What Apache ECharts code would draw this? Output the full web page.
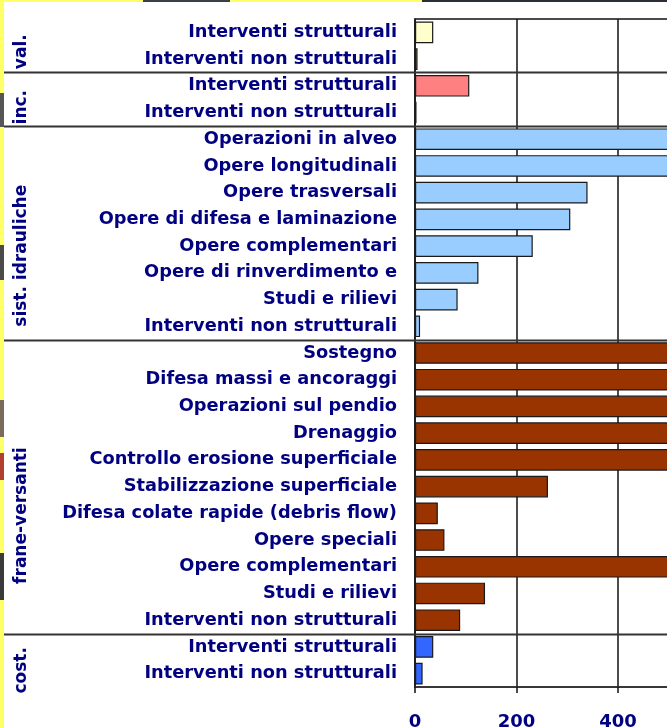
<!DOCTYPE html>
<html><head><meta charset="utf-8">
<script src="https://cdn.jsdelivr.net/npm/echarts@6/dist/echarts.min.js"></script>
<style>html,body{margin:0;padding:0;background:#fff}#c{width:667px;height:728px}</style>
</head><body><div id="c"></div>
<script>
// ---- data ----
const groupNames = ['val.', 'inc.', 'sist. idrauliche', 'frane-versanti', 'cost.'];
const valCats = ['Interventi strutturali', 'Interventi non strutturali'];
const valValues = [36, 5];
const incCats = ['Interventi strutturali', 'Interventi non strutturali'];
const incValues = [107, 3];
const sistCats = ['Operazioni in alveo', 'Opere longitudinali', 'Opere trasversali',
  'Opere di difesa e laminazione', 'Opere complementari', 'Opere di rinverdimento e',
  'Studi e rilievi', 'Interventi non strutturali'];
const sistValues = [980, 870, 340, 306, 232, 125, 84, 10];
const franeCats = ['Sostegno', 'Difesa massi e ancoraggi', 'Operazioni sul pendio', 'Drenaggio',
  'Controllo erosione superficiale', 'Stabilizzazione superficiale',
  'Difesa colate rapide (debris flow)', 'Opere speciali', 'Opere complementari',
  'Studi e rilievi', 'Interventi non strutturali'];
const franeValues = [1100, 900, 720, 650, 600, 262, 45, 58, 560, 138, 89];
const costCats = ['Interventi strutturali', 'Interventi non strutturali'];
const costValues = [36, 15];
const xTickLabels = [0, 200, 400, 600, 800];

// ---- styles ----
const groupColors = ['#FFFFCC', '#FF8080', '#99CCFF', '#993300', '#3366FF'];
const groupLabelShift = [6, 8, 23, 29, 10];
const NAVY = '#000080';
const FONT = '"DejaVu Sans", Verdana, sans-serif';

const groupCats = [valCats, incCats, sistCats, franeCats, costCats];
const groupVals = [valValues, incValues, sistValues, franeValues, costValues];

const categories = [];
const barData = [];
const groupRanges = [];
groupCats.forEach((cats, g) => {
  const start = categories.length;
  cats.forEach((name, i) => {
    categories.push(g + '|' + i + '|' + name);
    barData.push({ value: groupVals[g][i], itemStyle: { color: groupColors[g] } });
  });
  groupRanges.push([start, categories.length - 1]);
});

const chart = echarts.init(document.getElementById('c'), null, { renderer: 'canvas' });
const option = {
  animation: false,
  backgroundColor: '#fff',
  grid: {
    left: 415, top: 19, width: 406, height: 668, containLabel: false, outerBoundsMode: 'none',
    show: true, borderColor: '#111', borderWidth: 1.5, backgroundColor: 'transparent'
  },
  xAxis: {
    type: 'value', min: xTickLabels[0], max: xTickLabels[xTickLabels.length - 1], interval: 200,
    axisLine: { show: true, lineStyle: { color: '#333', width: 1.5 } },
    axisTick: { show: true, length: 6, lineStyle: { color: '#111', width: 1.5 } },
    splitLine: { show: true, lineStyle: { color: '#111', width: 1.5 } },
    axisLabel: { color: NAVY, fontFamily: FONT, fontWeight: 'bold', fontSize: 18, margin: 26 }
  },
  yAxis: {
    type: 'category', inverse: true, data: categories,
    axisLine: { show: true, lineStyle: { color: '#222', width: 1.5 } },
    axisTick: { show: false },
    axisLabel: {
      color: NAVY, fontFamily: FONT, fontWeight: 'bold', fontSize: 17.8, margin: 18, interval: 0,
      formatter: v => v.split('|').slice(2).join('|')
    }
  },
  series: [{
    type: 'bar', data: barData, barCategoryGap: '19%',
    itemStyle: { borderColor: '#1a1a1a', borderWidth: 1.2 }
  }]
};
chart.setOption(option);

// separators and group labels positioned from the category scale
function yOf(i) { return chart.convertToPixel({ yAxisIndex: 0 }, i); }
const graphics = [];
// slide background remnants
graphics.push({ type: 'rect', shape: { x: 0, y: 0, width: 4, height: 728 }, style: { fill: '#FFFF66' }, z: 10 });
graphics.push({ type: 'rect', shape: { x: 0, y: 0, width: 667, height: 2 }, style: { fill: '#FFFF66' }, z: 10 });
graphics.push({ type: 'rect', shape: { x: 143, y: 0, width: 87, height: 2 }, style: { fill: '#3a3f48' }, z: 11 });
graphics.push({ type: 'rect', shape: { x: 422, y: 0, width: 245, height: 2 }, style: { fill: '#2a2e36' }, z: 11 });
[[93, 127, '#555'], [245, 280, '#4a4a4a'], [400, 437, '#7a6a5a'], [453, 480, '#b04030'], [553, 600, '#3a3a3a']].forEach(r => {
  graphics.push({ type: 'rect', shape: { x: 0, y: r[0], width: 4, height: r[1] - r[0] }, style: { fill: r[2] }, z: 11 });
});
groupRanges.forEach((rg, g) => {
  const y0 = yOf(rg[0]), y1 = yOf(rg[1]);
  const step = yOf(1) - yOf(0);
  const cy = (y0 + y1) / 2 + groupLabelShift[g];
  graphics.push({
    type: 'text', x: 22, y: cy, rotation: Math.PI / 2,
    style: { text: groupNames[g], fill: NAVY, font: 'bold 17px ' + FONT, align: 'center', verticalAlign: 'middle' }, z: 5
  });
  if (g < groupRanges.length - 1) {
    const yb = Math.round(y1 + step / 2) + 0.5;
    graphics.push({ type: 'line', shape: { x1: 4, y1: yb, x2: 667, y2: yb }, style: { stroke: '#333', lineWidth: 2 }, z: 5 });
  }
});
chart.setOption({ graphic: graphics });
</script>
</body></html>
